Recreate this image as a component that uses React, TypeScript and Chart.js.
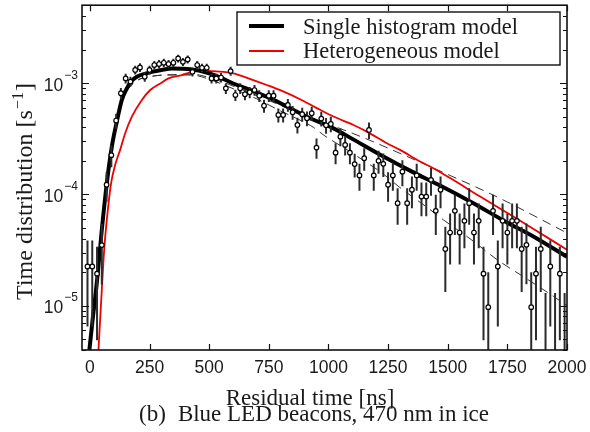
import { useEffect, useRef } from "react";
import { Chart, registerables } from "chart.js";

Chart.register(...registerables);

// ---------- data ----------
const binCenters = [
  -10, 10, 30, 50, 70, 90, 110, 130, 150, 170, 190, 210, 230, 250, 270, 290, 310, 330, 350, 370,
  390, 410, 430, 450, 470, 490, 510, 530, 550, 570, 590, 610, 630, 650, 670, 690, 710, 730, 750, 770,
  790, 810, 830, 850, 870, 890, 910, 930, 950, 970, 990, 1010, 1030, 1050, 1070, 1090, 1110, 1130, 1150, 1170,
  1190, 1210, 1230, 1250, 1270, 1290, 1310, 1330, 1350, 1370, 1390, 1410, 1430, 1450, 1470, 1490, 1510, 1530, 1550, 1570,
  1590, 1610, 1630, 1650, 1670, 1690, 1710, 1730, 1750, 1770, 1790, 1810, 1830, 1850, 1870, 1890, 1910, 1930, 1950, 1970,
  1990,
];

const rates = [
  2.25e-5, 2.25e-5, 1.94e-5, 3.5e-5, 1.22e-4, 2.25e-4, 4.6e-4, 8.1e-4, 1.1e-3, 1.03e-3,
  1.31e-3, 1.38e-3, 1.14e-3, 1.31e-3, 1.45e-3, 1.48e-3, 1.52e-3, 1.48e-3, 1.52e-3, 1.66e-3,
  1.55e-3, 1.63e-3, 1.26e-3, 1.45e-3, 1.37e-3, 1.37e-3, 1.1e-3, 1.1e-3, 1.12e-3, 8.96e-4,
  1.28e-3, 7.8e-4, 8.96e-4, 7.92e-4, 8.26e-4, 8.65e-4, 7.69e-4, 6.25e-4, 7.69e-4, 7.69e-4,
  5.16e-4, 5.16e-4, 6.35e-4, 5.46e-4, 4.2e-4, 5.24e-4, 4.82e-4, 5.35e-4, 2.63e-4, 4.79e-4,
  4.17e-4, 4.29e-4, 2.37e-4, 3.3e-4, 2.78e-4, 2.37e-4, 1.87e-4, 1.48e-4, 2.11e-4, 3.79e-4,
  1.48e-4, 2.0e-4, 1.88e-4, 1.22e-4, 1.48e-4, 8.34e-5, 1.6e-4, 8.34e-5, 1.1e-4, 1.48e-4,
  9.55e-5, 9.55e-5, 1.35e-4, 7.11e-5, 1.1e-4, 3.23e-5, 4.54e-5, 7.11e-5, 4.54e-5, 5.78e-5,
  8.34e-5, 4.54e-5, 5.78e-5, 1.94e-5, 9.7e-6, 7.11e-5, 2.25e-5, 5.78e-5, 4.54e-5, 5.78e-5,
  5.78e-5, 3.23e-5, 3.52e-5, 9.7e-6, 1.94e-5, 3.23e-5, 2.0e-6, 2.25e-5, 2.0e-6, 1.94e-5,
  2.0e-6,
];

const rateErrors = [
  1.6e-5, 1.6e-5, 1.45e-5, 1.95e-5, 3.6e-5, 5.0e-5, 7.1e-5, 9.4e-5, 1.09e-4, 1.06e-4,
  1.19e-4, 1.23e-4, 1.11e-4, 1.19e-4, 1.26e-4, 1.27e-4, 1.29e-4, 1.27e-4, 1.29e-4, 1.34e-4,
  1.3e-4, 1.33e-4, 1.17e-4, 1.26e-4, 1.22e-4, 1.22e-4, 1.09e-4, 1.09e-4, 1.1e-4, 9.9e-5,
  1.18e-4, 9.2e-5, 9.9e-5, 9.3e-5, 9.5e-5, 9.7e-5, 9.2e-5, 8.3e-5, 9.2e-5, 9.2e-5,
  7.5e-5, 7.5e-5, 8.3e-5, 7.7e-5, 6.8e-5, 7.6e-5, 7.2e-5, 7.6e-5, 5.4e-5, 7.2e-5,
  6.7e-5, 6.8e-5, 5.1e-5, 6.0e-5, 5.5e-5, 5.1e-5, 4.5e-5, 4.0e-5, 4.8e-5, 6.4e-5,
  4.0e-5, 4.7e-5, 4.5e-5, 3.6e-5, 4.0e-5, 3.0e-5, 4.2e-5, 3.0e-5, 3.5e-5, 4.0e-5,
  3.2e-5, 3.2e-5, 3.8e-5, 2.8e-5, 3.5e-5, 1.9e-5, 2.2e-5, 2.8e-5, 2.2e-5, 2.5e-5,
  3.0e-5, 2.2e-5, 2.5e-5, 1.45e-5, 1.03e-5, 2.8e-5, 1.6e-5, 2.5e-5, 2.2e-5, 2.5e-5,
  2.5e-5, 1.9e-5, 1.96e-5, 1.03e-5, 1.45e-5, 1.9e-5, 1.1e-5, 1.6e-5, 1.1e-5, 1.45e-5,
  1.1e-5,
];

const singleModelT = [
  -5, 10, 29, 50, 71, 92, 113, 134, 155, 176, 197, 230, 260, 300, 344, 390, 428, 461, 530, 601,
  670, 741, 810, 881, 940, 1007, 1100, 1217, 1350, 1468, 1600, 1748, 1850, 2000,
];
const singleModelRate = [
  3.5e-6, 7e-6, 1.6e-5, 4.8e-5, 1.26e-4, 2.68e-4, 4.5e-4, 7.05e-4, 8.96e-4, 1.05e-3, 1.14e-3, 1.21e-3,
  1.26e-3, 1.31e-3, 1.35e-3, 1.34e-3, 1.32e-3, 1.29e-3, 1.16e-3, 9.9e-4, 8.7e-4, 7.54e-4, 6.4e-4,
  5.35e-4, 4.65e-4, 4.06e-4, 3.15e-4, 2.27e-4, 1.6e-4, 1.2e-4, 8.5e-5, 5.6e-5, 4.3e-5, 2.75e-5,
];

const heteroModelT = [
  36, 50, 60, 71, 89, 108, 127, 148, 176, 218, 253, 295, 330, 386, 428, 461, 530, 601, 670, 741,
  810, 881, 951, 1021, 1105, 1161, 1245, 1300, 1384, 1426, 1510, 1636, 1750, 1846, 2000,
];
const heteroModelRate = [
  4e-6, 1.39e-5, 3.18e-5, 5.9e-5, 1.26e-4, 1.9e-4, 2.51e-4, 3.54e-4, 4.99e-4, 7.05e-4, 8.65e-4,
  9.9e-4, 1.1e-3, 1.18e-3, 1.26e-3, 1.29e-3, 1.27e-3, 1.22e-3, 1.09e-3, 9.6e-4, 8.4e-4, 7.15e-4,
  5.95e-4, 5.0e-4, 4.2e-4, 3.66e-4, 2.88e-4, 2.51e-4, 1.97e-4, 1.78e-4, 1.4e-4, 9.55e-5, 6.8e-5,
  5.1e-5, 3.18e-5,
];

const upperBandT = [
  -5, 10, 29, 50, 71, 92, 113, 134, 155, 197, 260, 350, 428, 500, 600, 700, 800, 900, 1049, 1175,
  1287, 1468, 1706, 2000,
];
const upperBandRate = [
  3.5e-6, 7e-6, 1.6e-5, 4.8e-5, 1.26e-4, 2.68e-4, 4.5e-4, 6.8e-4, 8.5e-4, 1.05e-3, 1.15e-3, 1.19e-3,
  1.2e-3, 1.12e-3, 9.4e-4, 7.7e-4, 6.3e-4, 5.1e-4, 3.9e-4, 3.05e-4, 2.4e-4, 1.62e-4, 9.5e-5, 4.5e-5,
];

const lowerBandT = [
  -5, 10, 29, 50, 71, 92, 113, 134, 155, 197, 260, 350, 428, 500, 600, 700, 800, 867, 937, 979,
  1080, 1175, 1217, 1300, 1426, 1482, 1600, 1706, 1830, 1944, 2000,
];
const lowerBandRate = [
  3.5e-6, 7e-6, 1.6e-5, 4.8e-5, 1.26e-4, 2.68e-4, 4.5e-4, 6.8e-4, 8.5e-4, 1.05e-3, 1.15e-3, 1.18e-3,
  1.18e-3, 1.08e-3, 8.9e-4, 7.2e-4, 5.6e-4, 4.8e-4, 4.0e-4, 3.42e-4, 2.5e-4, 1.84e-4, 1.6e-4, 1.15e-4,
  7.3e-5, 5.9e-5, 3.9e-5, 2.6e-5, 1.75e-5, 1.21e-5, 1.0e-5,
];

const xTicks = [0, 250, 500, 750, 1000, 1250, 1500, 1750, 2000];
const yLabelExponents = [-5, -4, -3];
const legendLabels = ["Single histogram model", "Heterogeneous model"];
const xTitle = "Residual time [ns]";
const yTitleMain = "Time distribution [s";
const yTitleSup = "\u22121";
const yTitleEnd = "]";
const captionTag = "(b)";
const captionText = "Blue LED beacons, 470 nm in ice";

const X_MIN = -33;
const X_MAX = 2000;
const Y_MIN = 4e-6;
const Y_MAX = 5e-3;

const SANS = '"Liberation Sans", Arial, Helvetica, sans-serif';
const SERIF = '"Liberation Serif", "Times New Roman", Times, serif';
const TEXT = "#1a1a1a";

export default function App() {
  const ref = useRef<HTMLCanvasElement>(null);

  useEffect(() => {
    const canvas = ref.current;
    if (!canvas) return;
    const pts = (xs: number[], ys: number[]) => xs.map((x, i) => ({ x, y: ys[i] }));

    const errorBars = {
      id: "errorBars",
      afterDatasetDraw(chart: any, args: any) {
        if (args.index !== 1) return;
        const { ctx, chartArea: a, scales } = chart;
        ctx.save();
        ctx.beginPath();
        ctx.rect(a.left, a.top, a.right - a.left, a.bottom - a.top);
        ctx.clip();
        ctx.strokeStyle = "#2b2b2b";
        ctx.lineWidth = 2;
        binCenters.forEach((t, i) => {
          const v = rates[i];
          const e = rateErrors[i];
          const px = scales.x.getPixelForValue(t);
          const top = scales.y.getPixelForValue(v + e);
          const lo = v - e;
          let bottom = lo > 0 ? scales.y.getPixelForValue(lo) : a.bottom + 10;
          bottom = Math.min(bottom, a.bottom + 10);
          ctx.beginPath();
          ctx.moveTo(px, top);
          ctx.lineTo(px, bottom);
          ctx.stroke();
        });
        ctx.restore();
      },
    };

    const decor = {
      id: "decor",
      afterDraw(chart: any) {
        const { ctx, chartArea: a, scales } = chart;
        const xs = scales.x;
        const ys = scales.y;
        ctx.save();
        ctx.strokeStyle = "#111";
        ctx.fillStyle = TEXT;

        // ticks (inward)
        ctx.lineWidth = 1.2;
        ctx.beginPath();
        xTicks.forEach((v) => {
          const p = Math.round(xs.getPixelForValue(v)) + 0.5;
          ctx.moveTo(p, a.bottom);
          ctx.lineTo(p, a.bottom - 6);
          ctx.moveTo(p, a.top);
          ctx.lineTo(p, a.top + 6);
        });
        for (let e = -6; e <= -2; e++) {
          for (let m = 1; m <= 9; m++) {
            const v = m * Math.pow(10, e);
            if (v < Y_MIN * 0.999 || v > Y_MAX * 1.001) continue;
            const p = Math.round(ys.getPixelForValue(v)) + 0.5;
            const len = m === 1 ? 7 : 4;
            ctx.moveTo(a.left, p);
            ctx.lineTo(a.left + len, p);
            ctx.moveTo(a.right, p);
            ctx.lineTo(a.right - len, p);
          }
        }
        ctx.stroke();

        // frame
        ctx.lineWidth = 1.6;
        ctx.strokeRect(a.left, a.top, a.right - a.left, a.bottom - a.top);

        // x tick labels
        ctx.font = `17.5px ${SANS}`;
        ctx.textAlign = "center";
        ctx.textBaseline = "alphabetic";
        xTicks.forEach((v) => {
          ctx.fillText(String(v), xs.getPixelForValue(v), a.bottom + 23);
        });

        // y tick labels 10^e
        yLabelExponents.forEach((e) => {
          const p = ys.getPixelForValue(Math.pow(10, e));
          const sup = "\u2212" + String(-e);
          ctx.font = `12px ${SANS}`;
          const sw = ctx.measureText(sup).width;
          ctx.font = `17.5px ${SANS}`;
          const bw = ctx.measureText("10").width;
          const right = a.left - 4;
          ctx.textAlign = "left";
          ctx.fillText("10", right - sw - bw - 1, p + 7.5);
          ctx.font = `12px ${SANS}`;
          ctx.fillText(sup, right - sw, p - 4.5);
        });

        // x title + caption
        ctx.textAlign = "center";
        ctx.font = `23px ${SERIF}`;
        ctx.fillText(xTitle, 310, 405);
        ctx.textAlign = "left";
        const tagW = ctx.measureText(captionTag).width;
        const txtW = ctx.measureText(captionText).width;
        const gap = 12;
        const cx0 = 314 - (tagW + gap + txtW) / 2;
        ctx.fillText(captionTag, cx0, 421);
        ctx.fillText(captionText, cx0 + tagW + gap, 421);

        // y title (rotated)
        ctx.save();
        ctx.translate(24, 191.5);
        ctx.rotate(-Math.PI / 2);
        ctx.font = `24px ${SERIF}`;
        const w1 = ctx.measureText(yTitleMain).width;
        const w3 = ctx.measureText(yTitleEnd).width;
        ctx.font = `16px ${SERIF}`;
        const w2 = ctx.measureText(yTitleSup).width;
        const total = w1 + w2 + w3 + 2;
        let x0 = -total / 2;
        ctx.textAlign = "left";
        ctx.font = `24px ${SERIF}`;
        ctx.fillText(yTitleMain, x0, 8);
        x0 += w1 + 1;
        ctx.font = `16px ${SERIF}`;
        ctx.fillText(yTitleSup, x0, -1);
        x0 += w2 + 1;
        ctx.font = `24px ${SERIF}`;
        ctx.fillText(yTitleEnd, x0, 8);
        ctx.restore();

        // legend
        const lx = 237, ly = 12, lw = 323, lh = 53;
        ctx.fillStyle = "#fff";
        ctx.fillRect(lx, ly, lw, lh);
        ctx.strokeStyle = "#111";
        ctx.lineWidth = 1.4;
        ctx.strokeRect(lx, ly, lw, lh);
        ctx.lineCap = "butt";
        ctx.strokeStyle = "#000";
        ctx.lineWidth = 4;
        ctx.beginPath();
        ctx.moveTo(249, 26);
        ctx.lineTo(284, 26);
        ctx.stroke();
        ctx.strokeStyle = "#ee0000";
        ctx.lineWidth = 1.8;
        ctx.beginPath();
        ctx.moveTo(249, 51);
        ctx.lineTo(284, 51);
        ctx.stroke();
        ctx.fillStyle = TEXT;
        ctx.font = `22.5px ${SERIF}`;
        ctx.textAlign = "left";
        ctx.fillText(legendLabels[0], 303, 33.5);
        ctx.fillText(legendLabels[1], 303, 57.5);

        ctx.restore();
      },
    };

    const chart = new Chart(canvas, {
      type: "scatter",
      data: {
        datasets: [
          {
            label: "data",
            data: pts(binCenters, rates),
            showLine: false,
            pointRadius: 2.3,
            pointBorderWidth: 1.2,
            pointBackgroundColor: "#ffffff",
            pointBorderColor: "#000000",
            clip: 0,
          },
          {
            label: legendLabels[0],
            data: pts(singleModelT, singleModelRate),
            showLine: true,
            borderColor: "#000000",
            borderWidth: 4,
            pointRadius: 0,
            cubicInterpolationMode: "monotone",
            clip: 0,
          },
          {
            label: legendLabels[1],
            data: pts(heteroModelT, heteroModelRate),
            showLine: true,
            borderColor: "#ee0000",
            borderWidth: 1.8,
            pointRadius: 0,
            cubicInterpolationMode: "monotone",
            clip: 0,
          },
          {
            label: "upper",
            data: pts(upperBandT, upperBandRate),
            showLine: true,
            borderColor: "#333333",
            borderWidth: 1,
            borderDash: [9, 6],
            pointRadius: 0,
            cubicInterpolationMode: "monotone",
            clip: 0,
          },
          {
            label: "lower",
            data: pts(lowerBandT, lowerBandRate),
            showLine: true,
            borderColor: "#333333",
            borderWidth: 1,
            borderDash: [9, 6],
            pointRadius: 0,
            cubicInterpolationMode: "monotone",
            clip: 0,
          },
        ],
      } as any,
      options: {
        responsive: false,
        animation: false,
        devicePixelRatio: 1,
        layout: { padding: { left: 82, right: 23, top: 5, bottom: 82 } },
        scales: {
          x: { type: "linear", min: X_MIN, max: X_MAX, display: false },
          y: { type: "logarithmic", min: Y_MIN, max: Y_MAX, display: false },
        },
        plugins: {
          legend: { display: false },
          tooltip: { enabled: false },
        },
        events: [],
      } as any,
      plugins: [errorBars, decor],
    });

    return () => chart.destroy();
  }, []);

  return (
    <div style={{ position: "absolute", left: 0, top: 0, width: 590, height: 432, background: "#fff" }}>
      <canvas ref={ref} width={590} height={432} style={{ display: "block" }} />
    </div>
  );
}
